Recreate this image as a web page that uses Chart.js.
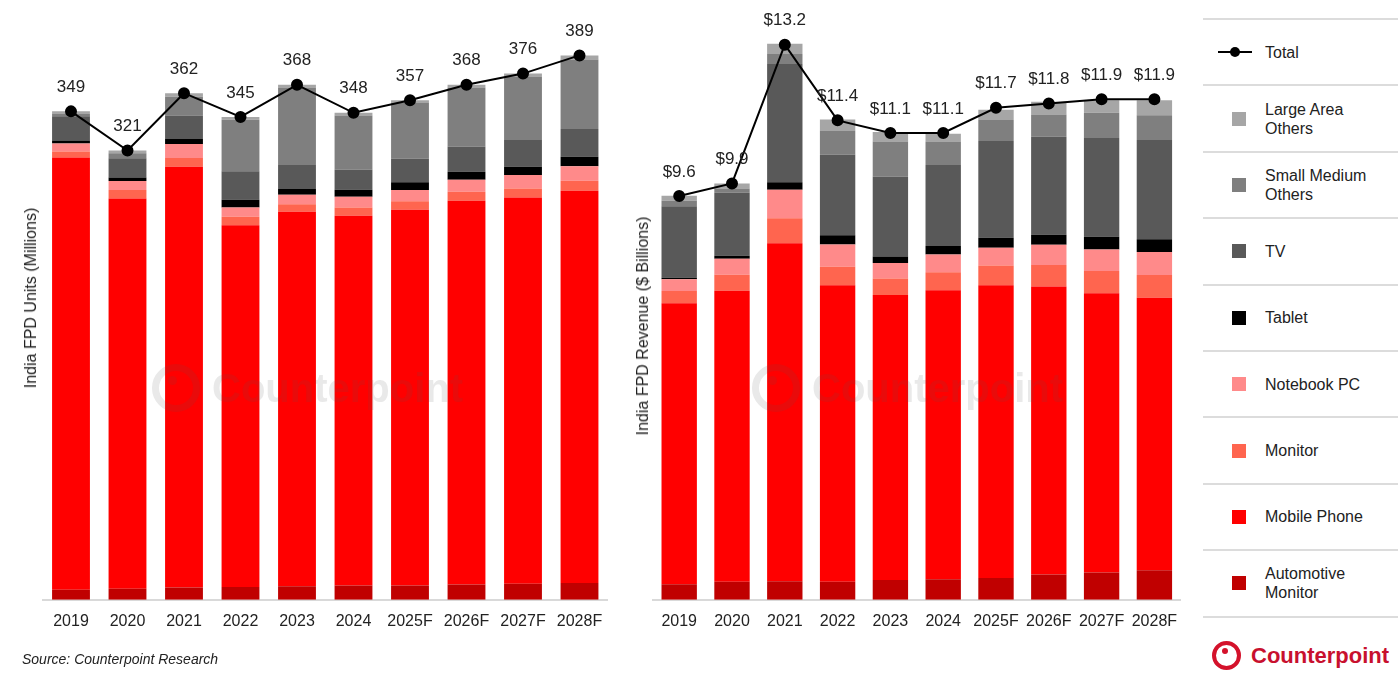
<!DOCTYPE html>
<html><head><meta charset="utf-8">
<script src="https://cdn.jsdelivr.net/npm/chart.js@4.4.1/dist/chart.umd.min.js"></script>
<style>
body{margin:0;width:1400px;height:678px;background:#fff;position:relative;overflow:hidden;font-family:"Liberation Sans",Arial,sans-serif;color:#222;}
canvas{position:absolute;top:0;}
.ytitle{position:absolute;transform:translate(-50%,-50%) rotate(-90deg);white-space:nowrap;font-size:16px;color:#222;}
.wm{position:absolute;display:flex;align-items:center;pointer-events:none;opacity:0.13;}
.wm .ring{width:34px;height:34px;border:7px solid #555;border-radius:50%;position:relative;margin-right:12px;}
.wm .ring:after{content:"";position:absolute;left:9px;top:5px;width:9px;height:9px;background:#555;border-radius:50%;}
.wm .t{font-weight:bold;font-size:40px;color:#555;}
#legend{position:absolute;left:1203px;top:18px;width:195px;}
.li{height:64.4px;border-top:2px solid #dcdcdc;display:flex;align-items:center;font-size:16px;color:#222;line-height:19px;}
.li:last-child{border-bottom:2px solid #dcdcdc;}
.sw{width:14px;height:14px;margin-left:29px;margin-right:19px;flex:none;}
.src{position:absolute;left:22px;top:651px;font-size:14px;font-style:italic;color:#222;}
.logo{position:absolute;left:1212px;top:641px;display:flex;align-items:center;}
.logo .ring{width:21px;height:21px;border:4px solid #d4122b;border-radius:50%;position:relative;margin-right:10px;}
.logo .ring:after{content:"";position:absolute;left:6px;top:3px;width:6px;height:6px;background:#d4122b;border-radius:50%;}
.logo .t{font-weight:bold;font-size:22px;color:#c8102e;}
</style>
</head><body>
<canvas id="c1" width="620" height="653" style="left:0"></canvas>
<canvas id="c2" width="575" height="653" style="left:620px"></canvas>
<div class="ytitle" style="left:31px;top:298px">India FPD Units (Millions)</div>
<div class="ytitle" style="left:643px;top:326px">India FPD Revenue ($ Billions)</div>
<div class="wm" style="left:152px;top:364px"><div class="ring"></div><div class="t">Counterpoint</div></div>
<div class="wm" style="left:752px;top:364px"><div class="ring"></div><div class="t">Counterpoint</div></div>
<div id="legend"></div>
<div class="src">Source: Counterpoint Research</div>
<div class="logo"><div class="ring"></div><div class="t">Counterpoint</div></div>
<script>
const years = ["2019","2020","2021","2022","2023","2024","2025F","2026F","2027F","2028F"];
const seriesNames = ["Automotive Monitor","Mobile Phone","Monitor","Notebook PC","Tablet","TV","Small Medium Others","Large Area Others"];
const seriesColors = ["#c00000","#ff0000","#ff654f","#ff8a8a","#000000","#595959","#7f7f7f","#a6a6a6"];

// Units (Millions)
const unitsAuto     = [7.2, 7.9, 8.7, 9.2, 9.7, 10.2, 10.2, 11.0, 11.5, 12.0];
const unitsMobile   = [308.9, 278.8, 300.8, 258.5, 267.5, 264.2, 268.5, 274.1, 276.0, 280.3];
const unitsMonitor  = [4.3, 6.2, 6.2, 6.0, 5.5, 6.0, 6.0, 6.4, 6.4, 7.2];
const unitsNotebook = [5.7, 6.4, 10.0, 6.7, 6.7, 7.6, 8.2, 8.6, 9.6, 10.2];
const unitsTablet   = [2.0, 2.4, 3.6, 5.5, 4.1, 5.0, 5.4, 5.7, 6.0, 6.9];
const unitsTV       = [17.4, 13.8, 16.7, 20.3, 17.2, 14.3, 16.8, 17.9, 19.1, 19.8];
const unitsSMO      = [2.0, 3.5, 13.5, 36.8, 55.3, 38.7, 39.9, 42.3, 45.4, 49.6];
const unitsLAO      = [1.5, 2.0, 2.5, 2.0, 2.0, 2.0, 2.0, 2.0, 2.0, 3.0];
const unitsTotal    = [349, 321, 362, 345, 368, 348, 357, 368, 376, 389];
const unitsLabels   = ["349","321","362","345","368","348","357","368","376","389"];

// Revenue ($ Billions)
const revAuto     = [0.37, 0.43, 0.44, 0.43, 0.47, 0.49, 0.52, 0.60, 0.65, 0.70];
const revMobile   = [6.68, 6.92, 8.04, 7.05, 6.78, 6.87, 6.96, 6.85, 6.64, 6.48];
const revMonitor  = [0.29, 0.38, 0.59, 0.44, 0.39, 0.43, 0.47, 0.51, 0.53, 0.54];
const revNotebook = [0.28, 0.38, 0.68, 0.53, 0.37, 0.42, 0.42, 0.48, 0.51, 0.55];
const revTablet   = [0.04, 0.07, 0.18, 0.22, 0.15, 0.20, 0.24, 0.24, 0.30, 0.30];
const revTV       = [1.70, 1.50, 2.81, 1.91, 1.90, 1.93, 2.30, 2.33, 2.35, 2.36];
const revSMO      = [0.13, 0.10, 0.24, 0.58, 0.84, 0.56, 0.50, 0.53, 0.60, 0.59];
const revLAO      = [0.12, 0.12, 0.24, 0.26, 0.22, 0.18, 0.24, 0.30, 0.30, 0.36];
const revTotal    = [9.6, 9.9, 13.2, 11.4, 11.1, 11.1, 11.7, 11.8, 11.9, 11.9];
const revLabels   = ["$9.6","$9.9","$13.2","$11.4","$11.1","$11.1","$11.7","$11.8","$11.9","$11.9"];

const FONT = '"Liberation Sans", Arial, sans-serif';

const labelPlugin = {
  id: 'totLabels',
  afterDatasetsDraw(chart, args, opts) {
    const ctx = chart.ctx;
    const meta = chart.getDatasetMeta(chart.data.datasets.length - 1);
    ctx.save();
    ctx.font = '17px ' + FONT;
    ctx.fillStyle = '#222';
    ctx.textAlign = 'center';
    ctx.textBaseline = 'middle';
    meta.data.forEach((pt, i) => {
      ctx.fillText(opts.labels[i], pt.x, pt.y - 24);
    });
    ctx.restore();
  }
};

function makeChart(id, stacks, total, labels, yMax, pad) {
  const datasets = stacks.map((arr, i) => ({
    type: 'bar', label: seriesNames[i], data: arr, backgroundColor: seriesColors[i],
    stack: 's', order: 1, barPercentage: 0.67, categoryPercentage: 1.0, borderWidth: 0
  }));
  datasets.push({
    type: 'line', label: 'Total', data: total, stack: 't', order: 0,
    borderColor: '#000', backgroundColor: '#000', borderWidth: 2,
    pointRadius: 5, pointHoverRadius: 5, pointBackgroundColor: '#000', tension: 0, clip: false
  });
  return new Chart(document.getElementById(id), {
    data: { labels: years, datasets },
    options: {
      responsive: false, animation: false,
      layout: { padding: pad },
      plugins: { legend: { display: false }, tooltip: { enabled: false }, totLabels: { labels } },
      scales: {
        x: { stacked: true, grid: { display: false, drawTicks: false },
             border: { color: '#d9d9d9', width: 2 },
             ticks: { padding: 12, color: '#222', font: { family: FONT, size: 16 }, maxRotation: 0, autoSkip: false } },
        y: { stacked: true, display: false, min: 0, max: yMax }
      }
    },
    plugins: [labelPlugin]
  });
}

makeChart('c1', [unitsAuto, unitsMobile, unitsMonitor, unitsNotebook, unitsTablet, unitsTV, unitsSMO, unitsLAO],
  unitsTotal, unitsLabels, 400, { left: 42.75, right: 12.25, top: 40, bottom: 10 });
makeChart('c2', [revAuto, revMobile, revMonitor, revNotebook, revTablet, revTV, revSMO, revLAO],
  revTotal, revLabels, 14, { left: 32.8, right: 14.2, top: 11, bottom: 10 });

// Legend
const legendItems = [
  { name: 'Total', line: true },
  { name: 'Large Area<br>Others', color: seriesColors[7] },
  { name: 'Small Medium<br>Others', color: seriesColors[6] },
  { name: 'TV', color: seriesColors[5] },
  { name: 'Tablet', color: seriesColors[4] },
  { name: 'Notebook PC', color: seriesColors[3] },
  { name: 'Monitor', color: seriesColors[2] },
  { name: 'Mobile Phone', color: seriesColors[1] },
  { name: 'Automotive<br>Monitor', color: seriesColors[0] }
];
const lg = document.getElementById('legend');
legendItems.forEach(it => {
  const d = document.createElement('div');
  d.className = 'li';
  if (it.line) {
    d.innerHTML = '<svg width="34" height="14" style="margin-left:15px;margin-right:13px;flex:none"><line x1="0" y1="7" x2="34" y2="7" stroke="#000" stroke-width="2"/><circle cx="17" cy="7" r="5" fill="#000"/></svg><span>' + it.name + '</span>';
  } else {
    d.innerHTML = '<div class="sw" style="background:' + it.color + '"></div><span>' + it.name + '</span>';
  }
  lg.appendChild(d);
});
</script>
</body></html>
